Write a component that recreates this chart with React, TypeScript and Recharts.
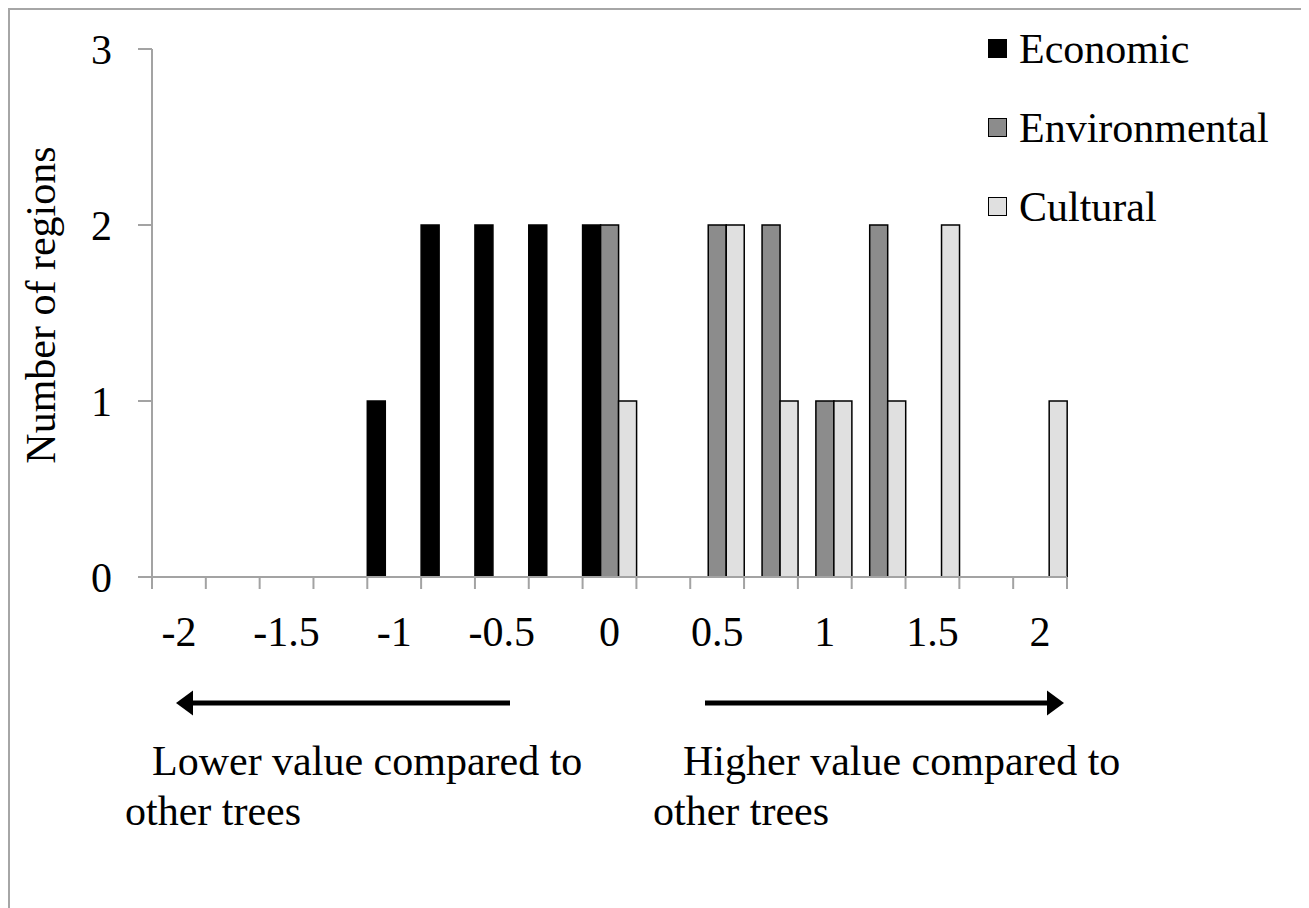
import React from 'react';
import { BarChart, Bar, XAxis, YAxis, Legend, Label } from 'recharts';

// bins of the score, 0.25 wide
const categories = [
  '-2', '-1.75', '-1.5', '-1.25', '-1', '-0.75', '-0.5', '-0.25',
  '0', '0.25', '0.5', '0.75', '1', '1.25', '1.5', '1.75', '2',
];
const economic = [0, 0, 0, 0, 1, 2, 2, 2, 2, 0, 0, 0, 0, 0, 0, 0, 0];
const environmental = [0, 0, 0, 0, 0, 0, 0, 0, 2, 0, 2, 2, 1, 2, 0, 0, 0];
const cultural = [0, 0, 0, 0, 0, 0, 0, 0, 1, 0, 2, 1, 1, 1, 2, 0, 1];
const tickLabels = ['-2', '-1.5', '-1', '-0.5', '0', '0.5', '1', '1.5', '2'];
const yTicks = [0, 1, 2, 3];

const series = [
  { key: 'economic', name: 'Economic', fill: '#000000' },
  { key: 'environmental', name: 'Environmental', fill: '#8c8c8c' },
  { key: 'cultural', name: 'Cultural', fill: '#e0e0e0' },
];

const data = categories.map((c, i) => ({
  bin: c,
  economic: economic[i],
  environmental: environmental[i],
  cultural: cultural[i],
}));

const FONT = '"Liberation Serif", serif';
const FS = 42;
const AXIS = '#a3a3a3';
const W = 1292;
const H = 898;
const PLOT_W = 915;

const XTick = (props: any) => {
  const { x, y, payload, index } = props;
  const half = payload && payload.offset > 0 ? payload.offset : PLOT_W / categories.length / 2;
  const last = index === categories.length - 1;
  const show = tickLabels.includes(String(payload.value));
  return (
    <g>
      <line x1={x - half} x2={x - half} y1={y} y2={y + 12} stroke={AXIS} strokeWidth={2} />
      {last && <line x1={x + half} x2={x + half} y1={y} y2={y + 12} stroke={AXIS} strokeWidth={2} />}
      {show && (
        <text x={x} y={y + 55} textAnchor="middle" dominantBaseline="central" fontSize={FS} fill="#000">
          {payload.value}
        </text>
      )}
    </g>
  );
};

const LegendBox = () => (
  <div style={{ fontFamily: FONT, fontSize: FS, color: '#000' }}>
    {series.map((s) => (
      <div key={s.key} style={{ display: 'flex', alignItems: 'center', height: 79 }}>
        <span
          style={{
            display: 'inline-block',
            width: 17,
            height: 17,
            background: s.fill,
            border: '1.5px solid #000',
            marginRight: 12,
          }}
        />
        <span style={{ lineHeight: 1 }}>{s.name}</span>
      </div>
    ))}
  </div>
);

export default function App() {
  return (
    <div
      style={{
        position: 'relative',
        width: W,
        height: H,
        border: '2px solid #a6a6a6',
        borderBottom: 'none',
        background: '#fff',
        fontFamily: FONT,
      }}
    >
      <BarChart
        width={W}
        height={H}
        data={data}
        barCategoryGap={0}
        barGap={0}
        margin={{ top: 39, right: 235, left: 0, bottom: 271 }}
        style={{ fontFamily: FONT }}
      >
        <XAxis
          dataKey="bin"
          height={60}
          interval={0}
          tickSize={0}
          tickMargin={0}
          tickLine={false}
          axisLine={{ stroke: AXIS, strokeWidth: 2 }}
          tick={<XTick />}
        />
        <YAxis
          type="number"
          domain={[0, 3]}
          ticks={yTicks}
          interval={0}
          width={142}
          tickSize={14}
          tickMargin={26}
          axisLine={{ stroke: AXIS, strokeWidth: 2 }}
          tickLine={{ stroke: AXIS, strokeWidth: 2 }}
          tick={{ fontSize: FS, fill: '#000' }}
        >
          <Label
            content={(p: any) => {
              const vb = p.viewBox || { x: 0, y: 39, width: 142, height: 528 };
              const cx = 45;
              const cy = vb.y + vb.height / 2 - 8;
              return (
                <text
                  x={cx}
                  y={cy}
                  transform={`rotate(-90 ${cx} ${cy})`}
                  textAnchor="middle"
                  fontSize={FS}
                  fill="#000"
                >
                  Number of regions
                </text>
              );
            }}
          />
        </YAxis>
        <Legend
          layout="vertical"
          align="center"
          verticalAlign="middle"
          wrapperStyle={{ top: -1, left: 978, width: 310 }}
          content={<LegendBox />}
        />
        {series.map((s) => (
          <Bar
            key={s.key}
            dataKey={s.key}
            name={s.name}
            fill={s.fill}
            stroke="#000"
            strokeWidth={1.5}
            isAnimationActive={false}
          />
        ))}
      </BarChart>
      <svg
        width={W}
        height={H}
        style={{ position: 'absolute', left: 0, top: 0, pointerEvents: 'none' }}
      >
        <line x1={183} x2={500} y1={693} y2={693} stroke="#000" strokeWidth={5} />
        <polygon points="166,693 183,680.5 183,705.5" fill="#000" />
        <line x1={695} x2={1037} y1={693} y2={693} stroke="#000" strokeWidth={5} />
        <polygon points="1054,693 1037,680.5 1037,705.5" fill="#000" />
        <g fontSize={FS} fill="#000" style={{ fontFamily: FONT }}>
          <text x={142} y={765}>Lower value compared to</text>
          <text x={115} y={815}>other trees</text>
          <text x={673} y={765}>Higher value compared to</text>
          <text x={643} y={815}>other trees</text>
        </g>
      </svg>
    </div>
  );
}
